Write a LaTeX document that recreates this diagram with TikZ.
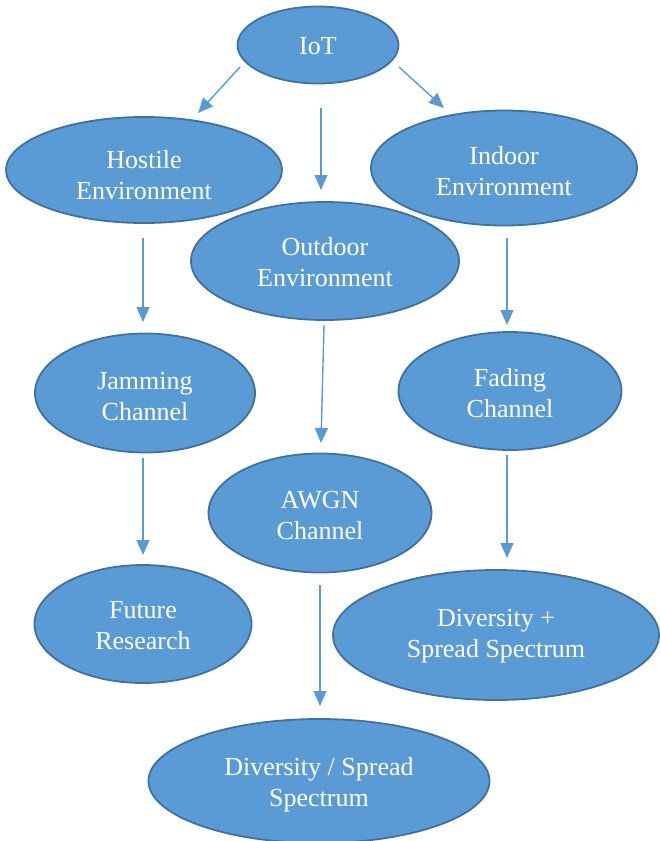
\documentclass[tikz,border=0pt]{standalone}
\usepackage{fontspec}
\setmainfont{Liberation Serif}
\usetikzlibrary{shapes.geometric,arrows.meta}
\definecolor{bfill}{HTML}{5B9BD5}
\definecolor{bline}{HTML}{41719C}
\newcommand\dnstrut[1]{\rule{0pt}{#1pt}}
\tikzset{
  ell/.style={ellipse, draw=bline, line width=1.8pt, fill=bfill, inner sep=0pt,
    text=white, align=center, font=\fontsize{26}{31}\selectfont},
  arr/.style={draw=bfill, line width=1.4pt, -{Triangle[length=15pt,width=13pt]}}
}
\begin{document}
\begin{tikzpicture}[x=1pt,y=-1pt]
\useasboundingbox (0,0) rectangle (660,841);
\node[ell, minimum width=161, minimum height=77] (iot) at (318,45) {\dnstrut{20}IoT};
\node[ell, minimum width=276, minimum height=106] (hostile) at (144,170) {\dnstrut{28}Hostile\\Environment};
\node[ell, minimum width=266, minimum height=115] (indoor) at (504,168) {\dnstrut{24}Indoor\\Environment};
\node[ell, minimum width=268, minimum height=118] (outdoor) at (325,261) {\dnstrut{20}Outdoor\\Environment};
\node[ell, minimum width=220, minimum height=119] (jamming) at (145,393) {\dnstrut{24}Jamming\\Channel};
\node[ell, minimum width=223, minimum height=118] (fading) at (510,391) {\dnstrut{22}Fading\\Channel};
\node[ell, minimum width=223, minimum height=119] (awgn) at (320,513) {\dnstrut{22}AWGN\\Channel};
\node[ell, minimum width=217, minimum height=118] (future) at (143,624) {\dnstrut{20}Future\\Research};
\node[ell, minimum width=326, minimum height=130] (divplus) at (496,635) {\dnstrut{20}Diversity +\\Spread Spectrum};
\node[ell, minimum width=341, minimum height=124] (divspread) at (319,781) {\dnstrut{26}Diversity / Spread\\Spectrum};
\draw[arr] ([shift={(-78,22)}]iot.center) -- ([shift={(54,-57)}]hostile.center);
\draw[arr] ([shift={(81,22)}]iot.center) -- ([shift={(-60,-60)}]indoor.center);
\draw[arr] ([shift={(3,63)}]iot.center) -- ([shift={(-4,-71)}]outdoor.center);
\draw[arr] ([shift={(-1,68)}]hostile.center) -- ([shift={(-2,-71)}]jamming.center);
\draw[arr] ([shift={(3,70)}]indoor.center) -- ([shift={(-3,-66)}]fading.center);
\draw[arr] ([shift={(-1,64)}]outdoor.center) -- ([shift={(1,-70)}]awgn.center);
\draw[arr] ([shift={(-2,65)}]jamming.center) -- ([shift={(0,-69)}]future.center);
\draw[arr] ([shift={(-3,64)}]fading.center) -- ([shift={(11,-77)}]divplus.center);
\draw[arr] ([shift={(0,72)}]awgn.center) -- ([shift={(1,-75)}]divspread.center);
\end{tikzpicture}
\end{document}
